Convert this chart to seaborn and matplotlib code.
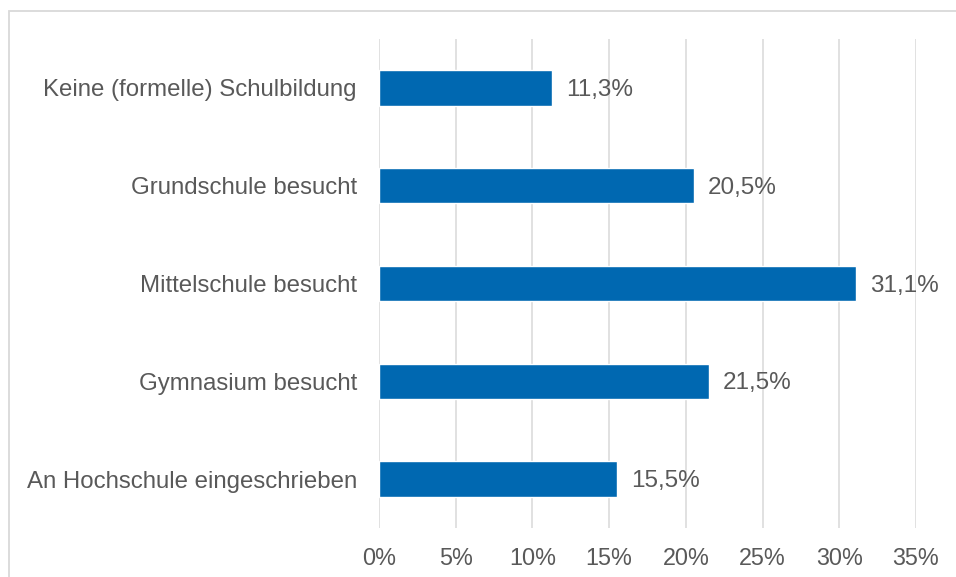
import pandas as pd
import matplotlib
matplotlib.use('Agg')
import matplotlib.pyplot as plt
import seaborn as sns
from matplotlib.patches import Rectangle

# Daten
kategorien = ['Keine (formelle) Schulbildung', 'Grundschule besucht', 'Mittelschule besucht',
              'Gymnasium besucht', 'An Hochschule eingeschrieben']
anteile = [11.3, 20.5, 31.1, 21.5, 15.5]
x_ticks = [0, 5, 10, 15, 20, 25, 30, 35]

df = pd.DataFrame({'Kategorie': kategorien, 'Anteil': anteile})

sns.set_theme(style='white')
plt.rcParams['font.family'] = ['Liberation Sans', 'DejaVu Sans']
text_farbe = '#595959'
gitter_farbe = '#D9D9D9'

fig = plt.figure(figsize=(9.56, 5.77), dpi=100)
ax = fig.add_axes([379 / 956, 1 - 528 / 577, (916 - 379) / 956, (528 - 39) / 577])

sns.barplot(data=df, x='Anteil', y='Kategorie', orient='h', color='#0068B1',
            width=0.36, saturation=1, ax=ax, zorder=3)

# Beschriftung der Balken
for bar, wert in zip(ax.patches, anteile):
    ax.annotate(f'{wert:.1f}%'.replace('.', ','),
                (bar.get_width(), bar.get_y() + bar.get_height() / 2),
                xytext=(10, -1.5), textcoords='offset points',
                ha='left', va='center', fontsize=17.5, color=text_farbe)

ax.set_xlim(0, 35)
ax.set_ylim(4.5, -0.5)
ax.set_xticks(x_ticks)
ax.set_xticklabels([f'{t}%' for t in x_ticks])
ax.xaxis.grid(True, color=gitter_farbe, linewidth=1.1, zorder=0)
ax.yaxis.grid(False)
ax.set_xlabel('')
ax.set_ylabel('')
for s in ax.spines.values():
    s.set_visible(False)
ax.tick_params(axis='x', length=0, pad=14, labelsize=16.8, labelcolor=text_farbe)
ax.tick_params(axis='y', length=0, pad=16, labelsize=17.3, labelcolor=text_farbe)
for lbl in ax.get_yticklabels():
    lbl.set_y(lbl.get_position()[1])
    lbl.set_va('center_baseline')

# Rahmen um das Diagramm
fig.patches.append(Rectangle((8.5 / 956, -0.1), 2, 1 - 11 / 577 + 0.1,
                             transform=fig.transFigure, fill=False,
                             edgecolor=gitter_farbe, linewidth=1.3))

fig.savefig('out.png', dpi=100)
